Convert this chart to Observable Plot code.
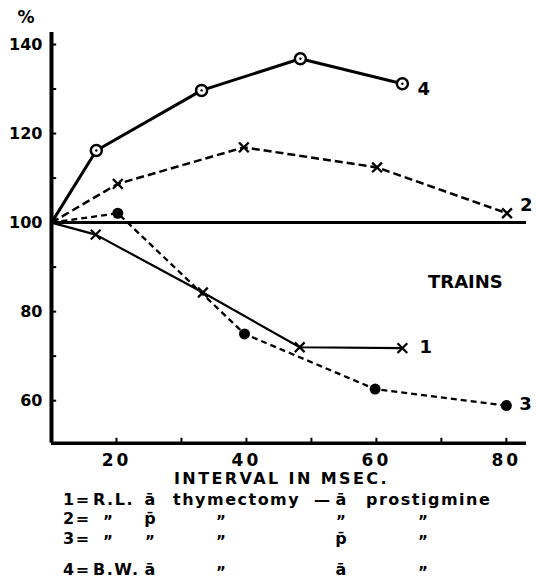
<!DOCTYPE html>
<html><head><meta charset="utf-8">
<script src="https://cdn.jsdelivr.net/npm/d3@7"></script>
<script src="https://cdn.jsdelivr.net/npm/@observablehq/plot@0.6"></script>
<style>
body{margin:0;background:#fff;}
#wrap{position:relative;width:536px;height:580px;font-family:"DejaVu Sans",sans-serif;font-weight:bold;color:#000;}
.t{position:absolute;white-space:nowrap;line-height:1;font-size:16px;letter-spacing:1.5px;}
.ch g[aria-label="x-axis tick label"] text{letter-spacing:3px;}
</style></head><body><div id="wrap"></div>
<script>
// Data (x = interval in msec, y = %)
const series1X = [10, 16.8, 33.3, 48.2, 64.0];
const series1Y = [100, 97.3, 84.3, 72.0, 71.8];
const series2X = [10, 20.2, 39.6, 60.1, 80.1];
const series2Y = [100, 108.7, 116.9, 112.4, 102.1];
const series3X = [10, 20.2, 39.7, 59.8, 80.0];
const series3Y = [100, 102.1, 75.0, 62.6, 58.9];
const series4X = [10, 16.9, 33.1, 48.3, 64.0];
const series4Y = [100, 116.2, 129.7, 136.8, 131.2];
const seriesNames = ["1", "2", "3", "4"];
const xTickLabels = [20, 40, 60, 80];
const xMinorTicks = [20, 30, 40, 50, 60, 70, 80];
const yTickLabels = [60, 80, 100, 120, 140];
const yMinorTicks = [60, 70, 80, 90, 100, 110, 120, 130, 140];
const baseline = [100];
const annotation = [{x: 73.7, y: 86.7, text: "TRAINS"}];
const xDomain = [10, 83.1];
const yDomain = [50.45, 142.7];
const xAxisTitle = "INTERVAL IN MSEC.";
const yAxisTitle = "%";
const A = "a\u0304", P = "p\u0304", D = "\u201D";
const legendRows = [
  ["1=", "R.L.", A, "thymectomy", "\u2014", A, "prostigmine"],
  ["2=", D, P, D, "", D, D],
  ["3=", D, D, D, "", P, D],
  ["4=", "B.W.", A, D, "", A, D]
];

const mk = (X, Y) => X.map((x, i) => ({x, y: Y[i]}));
const s1 = mk(series1X, series1Y), s2 = mk(series2X, series2Y),
      s3 = mk(series3X, series3Y), s4 = mk(series4X, series4Y);
const allSeries = [s1, s2, s3, s4];
const labelOffsets = [[17, -1], [13, -8], [13, -1], [15, 6]];

const marks = [
  Plot.ruleY(baseline, {strokeWidth: 3}),
  Plot.ruleY(yMinorTicks, {x1: xDomain[0], x2: xDomain[0] + 0.8, strokeWidth: 2}),
  Plot.ruleX(xMinorTicks, {y1: yDomain[0], y2: yDomain[0] + 1.1, strokeWidth: 2}),
  Plot.ruleX([xDomain[0]], {strokeWidth: 4}),
  Plot.ruleY([yDomain[0]], {strokeWidth: 3.5}),
  Plot.axisX({ticks: xTickLabels, tickSize: 0, tickPadding: 11, fontSize: 17, label: null}),
  Plot.axisY({ticks: yTickLabels, tickSize: 0, tickPadding: 9, fontSize: 16, label: null}),
  Plot.line(s4, {x: "x", y: "y", strokeWidth: 3}),
  Plot.line(s1, {x: "x", y: "y", strokeWidth: 2.2}),
  Plot.line(s2, {x: "x", y: "y", strokeWidth: 2.5, strokeDasharray: "8,4", strokeLinecap: "butt"}),
  Plot.line(s3, {x: "x", y: "y", strokeWidth: 2.3, strokeDasharray: "6,4", strokeLinecap: "butt"}),
  Plot.dot(s4.slice(1), {x: "x", y: "y", r: 5.5, fill: "white", stroke: "black", strokeWidth: 2.5}),
  Plot.dot(s4.slice(1), {x: "x", y: "y", r: 1.2, fill: "black"}),
  Plot.dot(s3.slice(1), {x: "x", y: "y", r: 5.5, fill: "black"}),
  Plot.dot(s1.slice(1), {x: "x", y: "y", symbol: "times", r: 4.5, stroke: "black", strokeWidth: 2.2}),
  Plot.dot(s2.slice(1), {x: "x", y: "y", symbol: "times", r: 4.5, stroke: "black", strokeWidth: 2.4}),
  ...allSeries.map((s, i) => Plot.text([s[s.length - 1]], {
    x: "x", y: "y", text: () => seriesNames[i], dx: labelOffsets[i][0], dy: labelOffsets[i][1],
    textAnchor: "start", fontSize: 18, fontWeight: "bold"
  })),
  Plot.text(annotation, {x: "x", y: "y", text: "text", fontSize: 18, fontWeight: "bold"})
];

const chart = Plot.plot({
  width: 536, height: 470,
  marginLeft: 51, marginRight: 10, marginTop: 32, marginBottom: 27.3,
  className: "ch",
  x: {domain: xDomain, label: null},
  y: {domain: yDomain, label: null},
  style: {fontFamily: "DejaVu Sans", fontWeight: "bold", color: "black", background: "white", overflow: "visible"},
  marks
});
const wrap = document.getElementById("wrap");
wrap.appendChild(chart);

function addText(txt, left, top, opts = {}) {
  const s = document.createElement("div");
  s.className = "t";
  s.textContent = txt;
  s.style.left = left + "px";
  s.style.top = top + "px";
  if (opts.center) s.style.transform = "translate(-50%,-50%)";
  else s.style.transform = "translate(0,-50%)";
  if (opts.size) s.style.fontSize = opts.size + "px";
  if (opts.ls != null) s.style.letterSpacing = opts.ls + "px";
  wrap.appendChild(s);
}
addText(yAxisTitle, 26, 17, {center: true, size: 17, ls: 0});
addText(xAxisTitle, 174, 479, {size: 16, ls: 2.4});
// columns: left anchor for words, center for marks/ditto
const cols = [{left: 63}, {left: 93, ditto: 108}, {center: 150}, {left: 173, ditto: 221},
              {center: 322}, {center: 341}, {left: 366, ditto: 423}];
const rowY = [500, 519, 539, 570];
legendRows.forEach((row, r) => {
  row.forEach((cell, c) => {
    if (!cell) return;
    const col = cols[c];
    if (cell === D) addText(cell, col.ditto ?? col.center, rowY[r] + 3, {center: true, size: 15, ls: 0});
    else if (col.center != null) addText(cell, col.center, rowY[r], {center: true, ls: 0});
    else addText(cell, col.left, rowY[r], {});
  });
});
</script></body></html>
